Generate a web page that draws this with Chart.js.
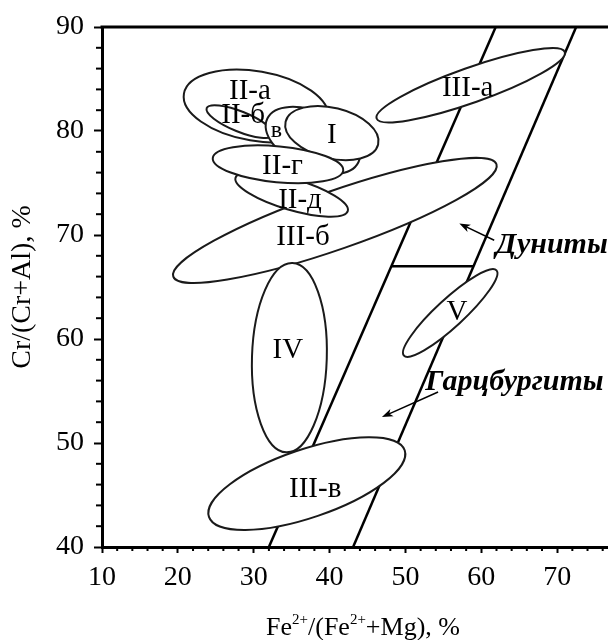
<!DOCTYPE html>
<html>
<head>
<meta charset="utf-8">
<script src="https://cdn.jsdelivr.net/npm/chart.js@4"></script>
<style>
  html, body { margin: 0; padding: 0; background: #fff; }
  #wrap { width: 608px; height: 640px; }
</style>
</head>
<body>
<div id="wrap"><canvas id="chart"></canvas></div>
<script>
// Boundary lines, x = Fe2+/(Fe2++Mg) %, y = Cr/(Cr+Al) %
const leftLineX = [32.0, 61.9];
const leftLineY = [40, 90];
const rightLineX = [43.1, 72.5];
const rightLineY = [40, 90];
const splitLineX = [48.1, 59.0];
const splitLineY = [67, 67];

// Fields (drawn in this order): centre, end of long axis, short/long ratio
const fieldNames = ['III-б', 'III-а', 'IV', 'III-в', 'V', 'II-а', 'II-б', 'в', 'I', 'II-д', 'II-г'];
const fieldCx = [40.7, 58.6, 34.7, 37.0, 55.9, 30.3, 28.2, 37.8, 40.3, 35.0, 33.2];
const fieldCy = [71.4, 84.4, 58.2, 46.1, 62.5, 82.4, 80.9, 79.1, 79.8, 73.9, 76.8];
const fieldEx = [62.0, 71.0, 35.1, 49.9, 62.0, 39.8, 32.6, 43.8, 46.4, 42.4, 41.8];
const fieldEy = [76.8, 87.6, 67.3, 49.3, 66.6, 81.2, 79.6, 77.0, 78.7, 72.3, 76.2];
const fieldRatio = [0.17, 0.175, 0.395, 0.33, 0.22, 0.476, 0.28, 0.56, 0.53, 0.265, 0.274];

// Field labels
const labelText = ['II-а', 'II-б', 'в', 'I', 'II-г', 'II-д', 'III-б', 'III-а', 'IV', 'V', 'III-в'];
const labelX = [29.5, 28.6, 33.0, 40.3, 33.8, 36.1, 36.5, 58.2, 34.5, 56.8, 38.1];
const labelY = [83.8, 81.5, 80.0, 79.6, 76.6, 73.3, 69.8, 84.1, 58.9, 62.6, 45.5];

// Rock names with arrows
const rockText = ['Дуниты', 'Гарцбургиты'];
const rockX = [61.9, 52.6];
const rockY = [69.0, 55.8];
const arrowFromX = [61.7, 54.3];
const arrowFromY = [69.5, 54.9];
const arrowToX = [57.1, 46.9];
const arrowToY = [71.1, 52.5];

const SERIF = '"Liberation Serif", "Times New Roman", serif';

function pts(xs, ys) {
  return xs.map((x, i) => ({x: x, y: ys[i]}));
}

function lineSet(xs, ys) {
  return {
    data: pts(xs, ys),
    showLine: true,
    borderColor: '#000',
    borderWidth: 2.5,
    pointRadius: 0,
    fill: false
  };
}

// ellipses, labels, minor ticks, x title
const diagramPlugin = {
  id: 'diagram',
  afterDatasetsDraw(chart) {
    const ctx = chart.ctx;
    const xs = chart.scales.x;
    const ys = chart.scales.y;
    const area = chart.chartArea;

    ctx.save();
    ctx.lineWidth = 2;
    ctx.strokeStyle = '#1a1a1a';
    ctx.fillStyle = '#fff';
    fieldNames.forEach((name, i) => {
      const cx = xs.getPixelForValue(fieldCx[i]);
      const cy = ys.getPixelForValue(fieldCy[i]);
      const ex = xs.getPixelForValue(fieldEx[i]);
      const ey = ys.getPixelForValue(fieldEy[i]);
      const a = Math.hypot(ex - cx, ey - cy);
      const ang = Math.atan2(ey - cy, ex - cx);
      ctx.beginPath();
      ctx.ellipse(cx, cy, a, a * fieldRatio[i], ang, 0, Math.PI * 2);
      ctx.fill();
      ctx.stroke();
    });

    // field labels
    ctx.fillStyle = '#000';
    ctx.textAlign = 'center';
    ctx.textBaseline = 'middle';
    labelText.forEach((t, i) => {
      ctx.font = (t === 'в' ? '24px ' : '29px ') + SERIF;
      ctx.fillText(t, xs.getPixelForValue(labelX[i]), ys.getPixelForValue(labelY[i]));
    });

    // rock names and arrows
    ctx.font = 'bold italic 30px ' + SERIF;
    ctx.textAlign = 'left';
    rockText.forEach((t, i) => {
      ctx.fillText(t, xs.getPixelForValue(rockX[i]), ys.getPixelForValue(rockY[i]));
      const x0 = xs.getPixelForValue(arrowFromX[i]);
      const y0 = ys.getPixelForValue(arrowFromY[i]);
      const x1 = xs.getPixelForValue(arrowToX[i]);
      const y1 = ys.getPixelForValue(arrowToY[i]);
      const ang = Math.atan2(y1 - y0, x1 - x0);
      ctx.lineWidth = 1.5;
      ctx.strokeStyle = '#000';
      ctx.beginPath();
      ctx.moveTo(x0, y0);
      ctx.lineTo(x1 - 6 * Math.cos(ang), y1 - 6 * Math.sin(ang));
      ctx.stroke();
      ctx.beginPath();
      ctx.moveTo(x1, y1);
      ctx.lineTo(x1 - 11 * Math.cos(ang) + 4 * Math.sin(ang), y1 - 11 * Math.sin(ang) - 4 * Math.cos(ang));
      ctx.lineTo(x1 - 8 * Math.cos(ang), y1 - 8 * Math.sin(ang));
      ctx.lineTo(x1 - 11 * Math.cos(ang) - 4 * Math.sin(ang), y1 - 11 * Math.sin(ang) + 4 * Math.cos(ang));
      ctx.closePath();
      ctx.fill();
    });

    // top frame line
    ctx.lineWidth = 3;
    ctx.beginPath();
    ctx.moveTo(area.left - 1.5, area.top);
    ctx.lineTo(area.right, area.top);
    ctx.stroke();

    // minor ticks every 2 units
    ctx.lineWidth = 2;
    for (let v = 42; v < 90; v += 2) {
      if (v % 10 === 0) continue;
      const py = ys.getPixelForValue(v);
      ctx.beginPath();
      ctx.moveTo(area.left - 6, py);
      ctx.lineTo(area.left, py);
      ctx.stroke();
    }
    for (let v = 12; v < 77; v += 2) {
      if (v % 10 === 0) continue;
      const px = xs.getPixelForValue(v);
      ctx.beginPath();
      ctx.moveTo(px, area.bottom);
      ctx.lineTo(px, area.bottom + 4);
      ctx.stroke();
    }

    // x axis title with superscripts
    const parts = [['Fe', 0], ['2+', 1], ['/(Fe', 0], ['2+', 1], ['+Mg), %', 0]];
    const big = '26px ' + SERIF;
    const small = '15px ' + SERIF;
    let w = 0;
    parts.forEach(p => {
      ctx.font = p[1] ? small : big;
      w += ctx.measureText(p[0]).width;
    });
    let x = (area.left + area.right) / 2 + 8 - w / 2;
    const base = area.bottom + 88;
    ctx.textBaseline = 'alphabetic';
    parts.forEach(p => {
      ctx.font = p[1] ? small : big;
      ctx.fillText(p[0], x, p[1] ? base - 11 : base);
      x += ctx.measureText(p[0]).width;
    });
    ctx.restore();
  }
};

new Chart(document.getElementById('chart'), {
  type: 'scatter',
  data: {
    datasets: [
      lineSet(leftLineX, leftLineY),
      lineSet(rightLineX, rightLineY),
      lineSet(splitLineX, splitLineY)
    ]
  },
  options: {
    responsive: true,
    maintainAspectRatio: false,
    animation: false,
    layout: {padding: {top: 27, left: 0, right: 0, bottom: 0}},
    plugins: {legend: {display: false}, tooltip: {enabled: false}},
    scales: {
      x: {
        type: 'linear',
        min: 10,
        max: 76.7,
        afterFit: s => { s.height = 93; },
        border: {display: true, color: '#000', width: 3},
        grid: {drawOnChartArea: false, drawTicks: true, tickLength: 6, tickWidth: 2, tickColor: '#000'},
        ticks: {stepSize: 10, includeBounds: false, color: '#000', padding: 8, font: {family: SERIF, size: 28}}
      },
      y: {
        type: 'linear',
        min: 40,
        max: 90,
        afterFit: s => { s.width = 102; },
        border: {display: true, color: '#000', width: 3},
        grid: {drawOnChartArea: false, drawTicks: true, tickLength: 8, tickWidth: 2, tickColor: '#000'},
        ticks: {stepSize: 10, color: '#000', padding: 10, font: {family: SERIF, size: 28}},
        title: {display: true, text: 'Cr/(Cr+Al), %', color: '#000', padding: {top: 6, bottom: 0}, font: {family: SERIF, size: 28}}
      }
    }
  },
  plugins: [diagramPlugin]
});
</script>
</body>
</html>
